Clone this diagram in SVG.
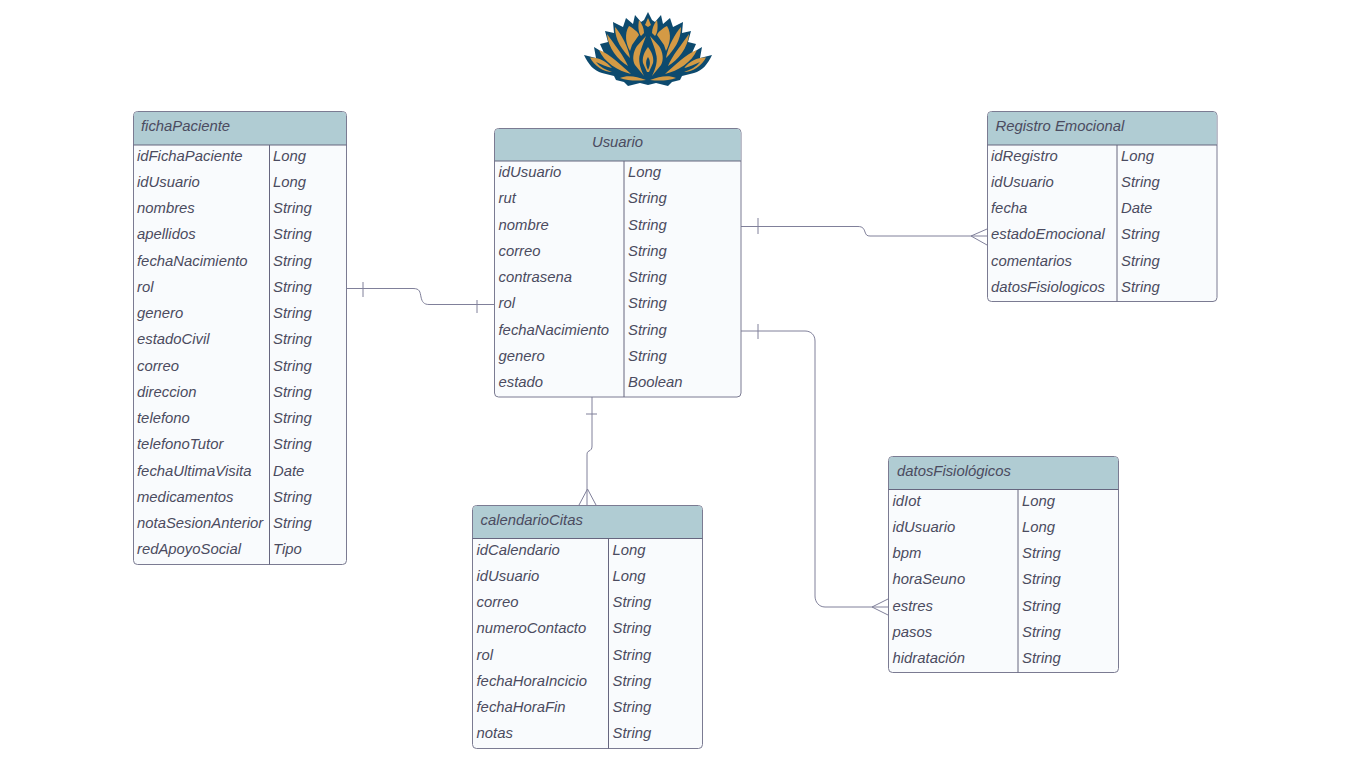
<svg xmlns="http://www.w3.org/2000/svg" width="1366" height="768" viewBox="0 0 1366 768">
<style>
.body{fill:#f9fbfd;stroke:#7b7b92;stroke-width:1}
.head{fill:#b0ccd3}
.rule{stroke:#66667f;stroke-width:1.2;fill:none}
.col{stroke:#66667f;stroke-width:1;fill:none}
text{font-family:"Liberation Sans",Arial,sans-serif;font-style:italic;font-size:14.85px;fill:#4b4b60}
.conn path{fill:none;stroke:#80809a;stroke-width:1}
.dark{fill:#0d4a6e}
.gold{fill:#d49a45}
</style>
<defs>
<g id="half">
<path class="dark" d="M648 12L644 20L641 22L635 15L633 24L626 18L623 27L613 22L614 33L605 31L608 42L600 44L604 53L594 47L596 58L584 55C588 64 594 71 602 73L614 76L616 80L624 82L628 86L640 83L648 85Z"/>
<path class="gold" d="M590 57.500C598 57 606 61 612 68C607 67 601 64 596 62C600 67 606 70 612 72C604 72 594 66 590 57.500Z"/>
<path class="gold" d="M599 50C610 54 622 66 631 74C618 71 604 62 599 50Z"/>
<path class="gold" d="M607 34C614 44 624 56 628 66C618 60 608 48 607 34Z"/>
<path class="gold" d="M615 27C621 34 628 46 630 58C622 50 615 40 615 27Z"/>
<path class="gold" d="M629 26C633 28 638 32 639 35L632 45L630 51C626 44 624 34 629 26Z"/>
<path class="gold" d="M639 20C642 24 644 28 644 33L641 36C638 32 638 26 639 20Z"/>
<path class="gold" d="M620 78C627 75 636 76 646 80C638 81 628 81 620 78Z"/>
<path class="gold" d="M648 18L645 25L648 27Z"/>
<path class="gold" d="M646 36L637 46C633 52 632 60 635 65L644 76C640 68 638 60 640 54C641 48 644 42 646 36Z"/>
<path class="gold" d="M648 47C644 52 642 58 643 63L647 72L648 72Z"/>
<path class="dark" d="M648 57C646 60 645 64 648 70Z"/>
</g>
</defs>
<rect width="1366" height="768" fill="#ffffff"/>
<g id="logo">
<use href="#half"/>
<use href="#half" transform="translate(1296 0) scale(-1 1)"/>
</g>
<g id="connectors" class="conn">
<path d="M347 288.500H413C420 288.500 420 292 421 297C422 302 424 304.500 429 304.500H494"/>
<path d="M363 282V297M477 300V313"/>
<path d="M741 226.500H858C863 226.500 864 229 865 232C866 235 867 236 870 236H987"/>
<path d="M758 218V234M987 229L971 236L987 245"/>
<path d="M592 397V446C592 449 591 450 589 451C587 452 587 453 587 456V505"/>
<path d="M586 414H597M579 505L587.500 489L596 505"/>
<path d="M741 331H805C811 331 815 335 815 341V596C815 602 819 607 825 607H888"/>
<path d="M758 324V339M888 599L872 607L888 615"/>
</g>
<g id="fichaPaciente">
<rect class="body" x="133.500" y="111.500" width="213" height="453" rx="4"/>
<path class="head" d="M134 145V115.500Q134 112 137.500 112H342.500Q346 112 346 115.500V145Z"/>
<path class="rule" d="M133.500 145H346.500"/>
<path class="col" d="M269.500 145V564.500"/>
<text x="141" y="131">fichaPaciente</text>
<text x="137" y="161">idFichaPaciente</text><text x="273" y="161">Long</text>
<text x="137" y="187">idUsuario</text><text x="273" y="187">Long</text>
<text x="137" y="213">nombres</text><text x="273" y="213">String</text>
<text x="137" y="239">apellidos</text><text x="273" y="239">String</text>
<text x="137" y="265.500">fechaNacimiento</text><text x="273" y="265.500">String</text>
<text x="137" y="292">rol</text><text x="273" y="292">String</text>
<text x="137" y="318">genero</text><text x="273" y="318">String</text>
<text x="137" y="344">estadoCivil</text><text x="273" y="344">String</text>
<text x="137" y="370.500">correo</text><text x="273" y="370.500">String</text>
<text x="137" y="397">direccion</text><text x="273" y="397">String</text>
<text x="137" y="423">telefono</text><text x="273" y="423">String</text>
<text x="137" y="449">telefonoTutor</text><text x="273" y="449">String</text>
<text x="137" y="475.500">fechaUltimaVisita</text><text x="273" y="475.500">Date</text>
<text x="137" y="502">medicamentos</text><text x="273" y="502">String</text>
<text x="137" y="528">notaSesionAnterior</text><text x="273" y="528">String</text>
<text x="137" y="554">redApoyoSocial</text><text x="273" y="554">Tipo</text>
</g>
<g id="usuario">
<rect class="body" x="494.500" y="128.500" width="246.500" height="268.500" rx="4"/>
<path class="head" d="M495 161V132.500Q495 129 498.500 129H737Q740.500 129 740.500 132.500V161Z"/>
<path class="rule" d="M494.500 161H741"/>
<path class="col" d="M624 161V397"/>
<text x="617.500" y="147" text-anchor="middle">Usuario</text>
<text x="498.500" y="177">idUsuario</text><text x="628" y="177">Long</text>
<text x="498.500" y="203">rut</text><text x="628" y="203">String</text>
<text x="498.500" y="229.500">nombre</text><text x="628" y="229.500">String</text>
<text x="498.500" y="256">correo</text><text x="628" y="256">String</text>
<text x="498.500" y="282">contrasena</text><text x="628" y="282">String</text>
<text x="498.500" y="308">rol</text><text x="628" y="308">String</text>
<text x="498.500" y="334.500">fechaNacimiento</text><text x="628" y="334.500">String</text>
<text x="498.500" y="361">genero</text><text x="628" y="361">String</text>
<text x="498.500" y="387">estado</text><text x="628" y="387">Boolean</text>
</g>
<g id="registroEmocional">
<rect class="body" x="987.500" y="111.500" width="229.500" height="190" rx="4"/>
<path class="head" d="M988 145V115.500Q988 112 991.500 112H1213Q1216.500 112 1216.500 115.500V145Z"/>
<path class="rule" d="M987.500 145H1217"/>
<path class="col" d="M1117 145V301.500"/>
<text x="995.500" y="131">Registro Emocional</text>
<text x="991" y="161">idRegistro</text><text x="1121" y="161">Long</text>
<text x="991" y="187">idUsuario</text><text x="1121" y="187">String</text>
<text x="991" y="213">fecha</text><text x="1121" y="213">Date</text>
<text x="991" y="239">estadoEmocional</text><text x="1121" y="239">String</text>
<text x="991" y="265.500">comentarios</text><text x="1121" y="265.500">String</text>
<text x="991" y="292">datosFisiologicos</text><text x="1121" y="292">String</text>
</g>
<g id="calendarioCitas">
<rect class="body" x="472.500" y="505.500" width="230" height="243" rx="4"/>
<path class="head" d="M473 538V509.500Q473 506 476.500 506H698.500Q702 506 702 509.500V538Z"/>
<path class="rule" d="M472.500 538.500H702.500"/>
<path class="col" d="M608.500 538V748.500"/>
<text x="480.500" y="525">calendarioCitas</text>
<text x="476.500" y="554.500">idCalendario</text><text x="612.500" y="554.500">Long</text>
<text x="476.500" y="581">idUsuario</text><text x="612.500" y="581">Long</text>
<text x="476.500" y="607">correo</text><text x="612.500" y="607">String</text>
<text x="476.500" y="633">numeroContacto</text><text x="612.500" y="633">String</text>
<text x="476.500" y="659.500">rol</text><text x="612.500" y="659.500">String</text>
<text x="476.500" y="686">fechaHoraIncicio</text><text x="612.500" y="686">String</text>
<text x="476.500" y="712">fechaHoraFin</text><text x="612.500" y="712">String</text>
<text x="476.500" y="738">notas</text><text x="612.500" y="738">String</text>
</g>
<g id="datosFisiologicos">
<rect class="body" x="888.500" y="456.500" width="230" height="216" rx="4"/>
<path class="head" d="M889 489V460.500Q889 457 892.500 457H1114.500Q1118 457 1118 460.500V489Z"/>
<path class="rule" d="M888.500 489.500H1118.500"/>
<path class="col" d="M1018 489V672.500"/>
<text x="897" y="476">datosFisiológicos</text>
<text x="892.500" y="505.500">idIot</text><text x="1022" y="505.500">Long</text>
<text x="892.500" y="532">idUsuario</text><text x="1022" y="532">Long</text>
<text x="892.500" y="558">bpm</text><text x="1022" y="558">String</text>
<text x="892.500" y="584">horaSeuno</text><text x="1022" y="584">String</text>
<text x="892.500" y="610.500">estres</text><text x="1022" y="610.500">String</text>
<text x="892.500" y="637">pasos</text><text x="1022" y="637">String</text>
<text x="892.500" y="663">hidratación</text><text x="1022" y="663">String</text>
</g>
</svg>
